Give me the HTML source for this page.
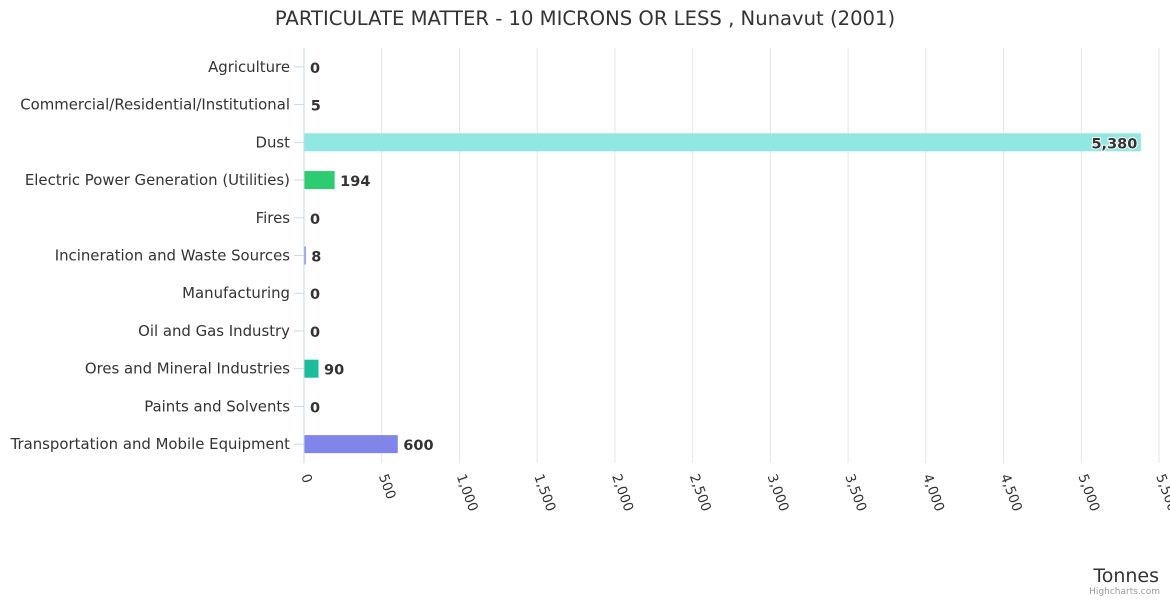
<!DOCTYPE html>
<html><head><meta charset="utf-8"><style>
body{margin:0;background:#fff;font-family:"DejaVu Sans","Liberation Sans",sans-serif;}
svg{display:block;font-family:"DejaVu Sans","Liberation Sans",sans-serif;}
</style></head><body>
<svg id="chart" width="1170" height="600">
<text x="585" y="25" text-anchor="middle" font-size="19.6" fill="#333">PARTICULATE MATTER - 10 MICRONS OR LESS , Nunavut (2001)</text>
<g id="grid"></g><g id="bars"></g><g id="ylabels"></g><g id="xlabels"></g>
<text x="1159" y="582" text-anchor="end" font-size="19" fill="#333">Tonnes</text>
<text x="1160" y="594" text-anchor="end" font-size="9" fill="#999">Highcharts.com</text>
</svg>
<script>
const categories=["Agriculture","Commercial/Residential/Institutional","Dust","Electric Power Generation (Utilities)","Fires","Incineration and Waste Sources","Manufacturing","Oil and Gas Industry","Ores and Mineral Industries","Paints and Solvents","Transportation and Mobile Equipment"];
const values=[0,5,5380,194,0,8,0,0,90,0,600];
const colors=["#7cb5ec","#434348","#91e8e1","#2ecc71","#f7a35c","#8085e9","#f15c80","#e4d354","#1abc9c","#f45b5b","#8085e9"];
const ticks=[0,500,1000,1500,2000,2500,3000,3500,4000,4500,5000,5500];
const NS="http://www.w3.org/2000/svg";
const plotX0=304,plotX1=1159,xMax=5500,plotTop=48,plotBot=463;
const xs=v=>plotX0+(v/xMax)*(plotX1-plotX0);
const band=(plotBot-plotTop)/categories.length;
const yc=i=>plotTop+band*(i+0.5);
function mk(t,a,p){const e=document.createElementNS(NS,t);for(const k in a)e.setAttribute(k,a[k]);p.appendChild(e);return e;}
const gGrid=document.getElementById('grid'),gBars=document.getElementById('bars'),gY=document.getElementById('ylabels'),gX=document.getElementById('xlabels');
ticks.forEach(t=>{
 const l=mk('line',{x1:xs(t),x2:xs(t),y1:plotTop,y2:plotBot,stroke:t===0?'#ccd6eb':'#e6e6e6','stroke-width':1},gGrid);
 
 
 const x=xs(t)-3,y=476;
 const tx=mk('text',{x:x,y:y,transform:`rotate(70 ${x} ${y})`,'font-size':13.5,fill:'#333','text-anchor':'start'},gX);
 tx.textContent=t.toLocaleString('en-US');
 
 
});
categories.forEach((c,i)=>{
 const y=yc(i);
 const tk=mk('line',{x1:plotX0-10,x2:plotX0,y1:y,y2:y,stroke:'#ccd6eb'},gGrid);
 
 
 const t=mk('text',{x:290,y:y+5,'text-anchor':'end','font-size':14.9,fill:'#333'},gY);
 t.textContent=c;
 
 
 const w=xs(values[i])-plotX0;
 if(w>1){const r=mk('rect',{x:plotX0+0.5,y:y-9,width:w,height:18,fill:colors[i]},gBars);
 
 }
 const inside=values[i]>4000;
 const v=mk('text',{x:inside?plotX0+w-3:plotX0+w+6,y:y+6,'text-anchor':inside?'end':'start','font-size':14.5,'font-weight':'bold',fill:'#333',stroke:'#fff','stroke-width':inside?2:0,'paint-order':'stroke'},gBars);
 v.textContent=values[i].toLocaleString('en-US');
 
 
});
</script>
</body></html>
